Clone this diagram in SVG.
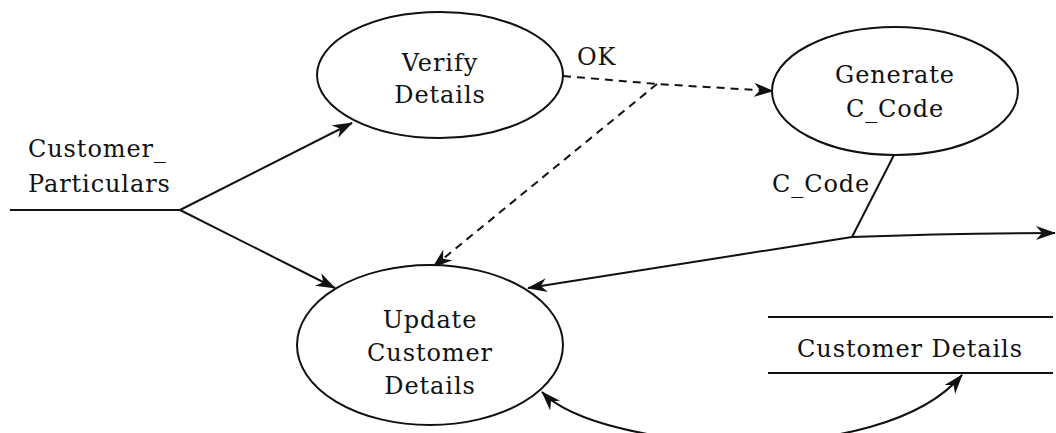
<svg xmlns="http://www.w3.org/2000/svg" width="1056" height="433" viewBox="0 0 1056 433">
<style>
.sh{fill:#fff;stroke:#111;stroke-width:2}
.ln{fill:none;stroke:#111;stroke-width:2}
.ds{fill:none;stroke:#111;stroke-width:2;stroke-dasharray:8 6}
text{font-family:"DejaVu Serif","Liberation Serif",serif;font-size:24px;letter-spacing:0.9px;fill:#111}
.c{text-anchor:middle}
</style>
<defs>
<marker id="ar" viewBox="0 0 20 14" refX="19" refY="7" markerWidth="20" markerHeight="14" markerUnits="userSpaceOnUse" orient="auto-start-reverse">
<path d="M0,0 L20,7 L0,14 L6,7 z" fill="#111"/>
</marker>
</defs>
<rect width="1056" height="433" fill="#fff"/>
<g id="connectors">
<path class="ln" d="M10 210 L180 210"/>
<path class="ln" d="M180 210 L352 123" marker-end="url(#ar)"/>
<path class="ln" d="M180 210 L335 288" marker-end="url(#ar)"/>
<path class="ds" d="M563 76 L657 84 L773 91" marker-end="url(#ar)"/>
<path class="ds" d="M657 84 L433 267" marker-end="url(#ar)"/>
<path class="ln" d="M894 155 L852 237"/>
<path class="ln" d="M852 237 L528 288" marker-end="url(#ar)"/>
<path class="ln" d="M852 237 Q950 233 1055 233" marker-end="url(#ar)"/>
<path class="ln" d="M542 392 C600 452 880 472 962 375" marker-start="url(#ar)" marker-end="url(#ar)"/>
<text x="577" y="65">OK</text>
<text x="772" y="192">C_Code</text>
<text x="28" y="157">Customer_</text>
<text x="28" y="192">Particulars</text>
</g>
<g id="verify">
<ellipse class="sh" cx="440" cy="75" rx="123" ry="63"/>
<text class="c" x="440" y="71">Verify</text>
<text class="c" x="440" y="103">Details</text>
</g>
<g id="generate">
<ellipse class="sh" cx="895" cy="91" rx="123" ry="64"/>
<text class="c" x="895" y="83">Generate</text>
<text class="c" x="895" y="117">C_Code</text>
</g>
<g id="update">
<ellipse class="sh" cx="430" cy="345" rx="133" ry="80"/>
<text class="c" x="430" y="328">Update</text>
<text class="c" x="430" y="361">Customer</text>
<text class="c" x="430" y="394">Details</text>
</g>
<g id="store">
<path class="ln" d="M768 317 L1053 317 M768 373 L1053 373"/>
<text class="c" x="910" y="357">Customer Details</text>
</g>
</svg>
